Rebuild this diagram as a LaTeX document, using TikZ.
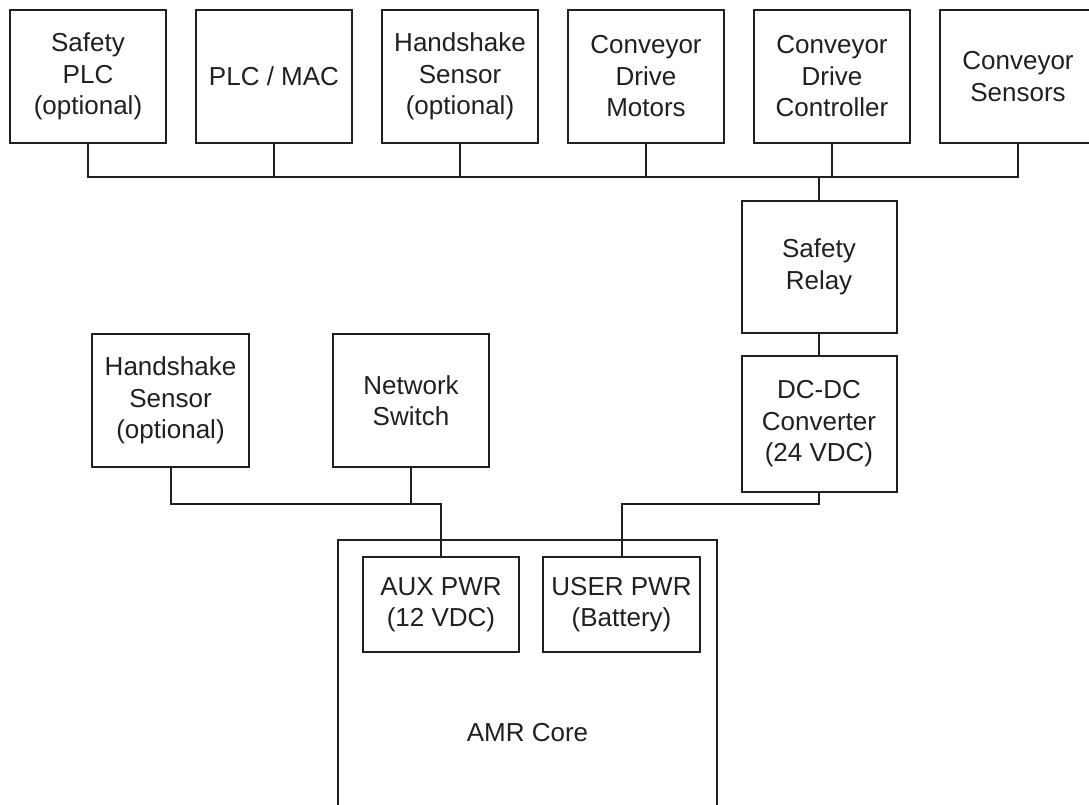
\documentclass[tikz,border=0pt]{standalone}
\usepackage{fontspec}
\setmainfont{Liberation Sans}
\usepackage{tikz}
\usetikzlibrary{positioning}
\definecolor{WireDark}{HTML}{231F20}

\begin{document}
\begin{tikzpicture}[x=1pt, y=-1pt, node distance=30pt, every node/.style={font=\fontsize{26}{31.5}\selectfont, text=WireDark}, box/.style={draw=WireDark, line width=2pt, fill=white, align=center, inner sep=0pt, outer sep=0pt, minimum width=156pt, minimum height=133pt}, wire/.style={line width=2pt, color=WireDark}]
\useasboundingbox (0,0) rectangle (1089,804);
% conveyor side
\node[box] (splc) at (88,76.5) {Safety\\PLC\\(optional)};
\node[box] (plc) [right=of splc] {PLC / MAC};
\node[box] (hss) [right=of plc] {Handshake\\Sensor\\(optional)};
\node[box] (cdm) [right=of hss] {Conveyor\\Drive\\Motors};
\node[box] (cdc) [right=of cdm] {Conveyor\\Drive\\Controller};
\node[box] (csens) [right=of cdc] {Conveyor\\Sensors};
\node[box, minimum width=155pt, minimum height=132pt] (relay) at (819,267) {Safety\\Relay};
\node[box, minimum width=155pt, minimum height=136pt] (dcdc) [below=23pt of relay] {DC-DC\\Converter\\(24 VDC)};
% robot side
\node[box, minimum width=157pt] (hsr) at (170.5,400.5) {Handshake\\Sensor\\(optional)};
\node[box] (nsw) [right=84pt of hsr] {Network\\Switch};
\node[box, minimum width=379pt, minimum height=386pt] (core) at (527.5,733) {AMR Core};
\node[box, minimum height=95pt] (aux) at (441,604.5) {AUX PWR\\(12 VDC)};
\node[box, minimum width=157pt, minimum height=95pt] (user) at (621.5,604.5) {USER PWR\\(Battery)};
\coordinate (bus) at (819,177);
\coordinate (jct) at (0,504);
\draw[wire] (splc.south) -- (splc.south |- bus) -- (csens.south |- bus) -- (csens.south);
\foreach \n in {plc,hss,cdm,cdc} \draw[wire] (\n.south) -- (\n.south |- bus);
\draw[wire] (bus) -- (relay.north); \draw[wire] (relay) -- (dcdc);
\draw[wire] (hsr.south) |- (aux.north |- jct) -- (aux.north); \draw[wire] (nsw.south) -- (nsw.south |- jct);
\draw[wire] (dcdc.south) |- (user.north |- jct) -- (user.north);
\end{tikzpicture}
\end{document}
